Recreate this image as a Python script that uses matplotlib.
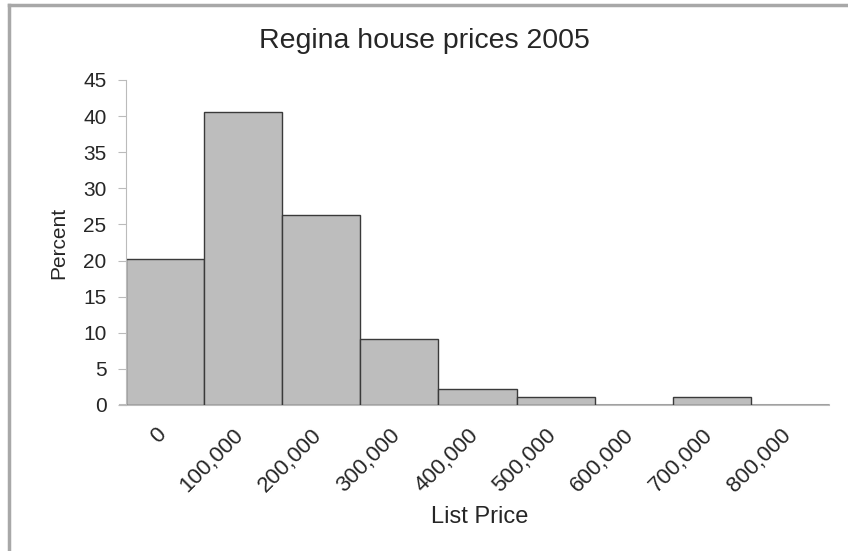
import matplotlib
matplotlib.use("Agg")
import matplotlib.pyplot as plt
from matplotlib.lines import Line2D
from matplotlib.transforms import ScaledTranslation

plt.rcParams['font.family'] = ['Liberation Sans', 'DejaVu Sans']

price_labels = ['0', '100,000', '200,000', '300,000', '400,000',
                '500,000', '600,000', '700,000', '800,000']
percent = [20.2, 40.5, 26.3, 9.2, 2.2, 1.1, 0, 1.1, 0]
yticks = [0, 5, 10, 15, 20, 25, 30, 35, 40, 45]

text_col = '#262626'
axis_col = '#bbbbbb'

fig = plt.figure(figsize=(8.48, 5.51), dpi=100)
ax = fig.add_axes([0.1486, 0.265, 0.829, 0.59])

x = range(len(percent))
ax.bar(x, percent, width=1, align='edge', color='#bdbdbd',
       edgecolor='#3a3a3a', linewidth=1)

ax.set_xlim(0, len(percent))
ax.set_ylim(0, 45)
ax.set_yticks(yticks)
ax.set_xticks([i + 0.5 for i in x])
ax.set_xticklabels(price_labels, rotation=45, ha='right',
                   rotation_mode='anchor', fontsize=16, color=text_col)
ax.tick_params(axis='x', length=0, pad=14)
ax.tick_params(axis='y', length=6, color=axis_col, labelsize=15,
               labelcolor=text_col, pad=8, direction='out')

# nudge the rotated labels left so their ends sit under the bar centres
shift = ScaledTranslation(-10 / 100, 0, fig.dpi_scale_trans)
for lab in ax.get_xticklabels():
    lab.set_transform(lab.get_transform() + shift)

for s in ['top', 'right']:
    ax.spines[s].set_visible(False)
ax.spines['left'].set_color(axis_col)
ax.spines['bottom'].set_color(axis_col)
ax.spines['bottom'].set_linewidth(1.5)
ax.spines['bottom'].set_bounds(-0.08, len(percent))
ax.spines['bottom'].set_zorder(0)

ax.set_ylabel('Percent', fontsize=15, color=text_col)
ax.yaxis.set_label_coords(-0.082, 0.5)
ax.set_xlabel('List Price', fontsize=17, color=text_col)
ax.xaxis.set_label_coords(0.503, -0.312)
fig.text(0.5, 0.925, 'Regina house prices 2005', ha='center', va='center',
         fontsize=20.5, color=text_col)

# outer chart frame (cut off at right and bottom)
fig.add_artist(Line2D([9 / 848, 9 / 848], [0, 1 - 5 / 551], color='#a8a8a8', lw=2.5))
fig.add_artist(Line2D([9 / 848, 1], [1 - 5 / 551, 1 - 5 / 551], color='#a8a8a8', lw=2.5))

fig.savefig('out.png', dpi=100)
